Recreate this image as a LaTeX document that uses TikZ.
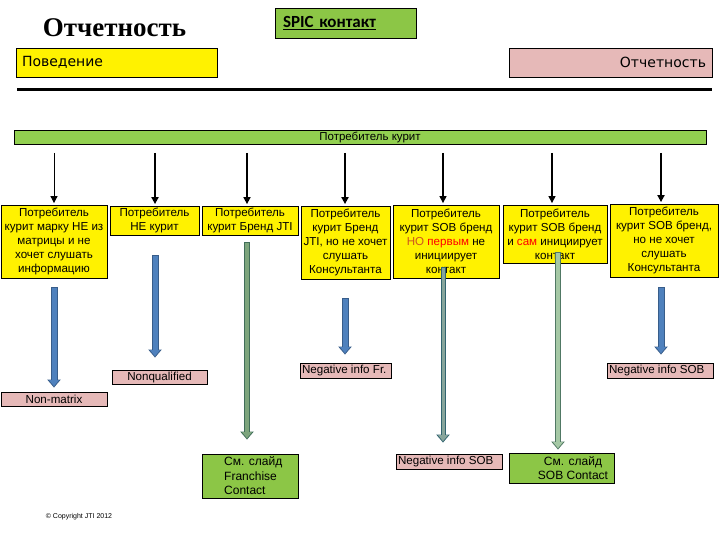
\documentclass[tikz,border=0pt]{standalone}
\usepackage{fontspec}
\setmainfont{Liberation Sans}
\newfontfamily\titlefont{Liberation Serif}
\newfontfamily\calfont{Carlito}
\newfontfamily\dvfont{DejaVu Sans}
\usetikzlibrary{arrows.meta}
\definecolor{bargreen}{RGB}{146,208,80}
\definecolor{boxgreen}{RGB}{140,198,70}
\definecolor{pinkbox}{RGB}{230,185,184}
\definecolor{blueF}{RGB}{79,129,189}
\definecolor{blueD}{RGB}{56,93,138}
\definecolor{grnD}{RGB}{64,110,90}
\definecolor{grnF}{RGB}{125,165,125}
\definecolor{tealD}{RGB}{50,100,112}
\definecolor{tealF}{RGB}{135,165,155}
\definecolor{lgrnD}{RGB}{80,120,100}
\definecolor{lgrnF}{RGB}{165,200,165}
\definecolor{orangeNO}{RGB}{205,85,30}
\newcommand\blkarrow[6]{%
  \draw[draw=#3, line width=#5pt, shorten >=#6pt, -{Triangle[width=13pt,length=8pt]}] (#1) -- (#2);
  \draw[draw=#4, line width=#5pt-2pt, shorten <=1pt, shorten >=#6pt+1.4pt, -{Triangle[width=9.5pt,length=6pt]}] (#1) -- (#2);}
\begin{document}
\begin{tikzpicture}[x=1pt,y=-1pt,
  box/.style={draw=black, line width=0.8pt, inner sep=0pt, align=center, font=\fontsize{11.6}{14}\selectfont},
  ybox/.style={box, fill=yellow},
  pbox/.style={box, fill=pinkbox},
  gbox/.style={box, fill=boxgreen},
  karrow/.style={draw=black, -{Triangle[width=7pt,length=7pt]}, shorten >=1.5pt}]
\path[use as bounding box] (0,0) rectangle (720,540);

% header
\node[anchor=base, font=\titlefont\bfseries\fontsize{27}{30}\selectfont] (title) at (114.5,37) {Отчетность};
\node[box, fill=boxgreen, minimum height=30pt, text width=125pt, inner xsep=8pt, align=left,
      font=\calfont\bfseries\fontsize{17}{20}\selectfont] (spic) at (345.5,23) {\underline{SPIC контакт}};
\node[box, fill=yellow, minimum height=29pt, text width=189pt, inner xsep=6pt, align=left,
      font=\dvfont\fontsize{14}{16}\selectfont] (beh) at (116.5,62.5) {Поведение};
\node[box, fill=pinkbox, minimum height=29pt, text width=191pt, inner xsep=6pt, align=right,
      font=\dvfont\fontsize{14}{16}\selectfont] (rep) at (610.5,62.5) {Отчетность};
\coordinate (l1) at (17,90);
\coordinate (l2) at (712,90);
\draw[line width=3pt] (l1) -- (l2);

% green bar
\node[draw=black, line width=0.8pt, fill=bargreen, minimum width=692pt, minimum height=14pt, inner sep=0pt] (bar) at (360,137) {};
\node[font=\fontsize{11.5}{13}\selectfont, inner sep=0pt] (bartxt) at (370,137) {Потребитель курит};

% yellow boxes
\node[ybox, minimum width=106pt, minimum height=73pt] (y1) at (54,241.5)
  {Потребитель\\курит марку НЕ из\\матрицы и не\\хочет слушать\\информацию};
\node[ybox, minimum width=89pt, minimum height=29pt] (y2) at (154.5,220.5)
  {Потребитель\\НЕ курит};
\node[ybox, minimum width=96pt, minimum height=29pt] (y3) at (250,220.5)
  {Потребитель\\курит Бренд JTI};
\node[ybox, minimum width=89pt, minimum height=73pt] (y4) at (345.5,242.5)
  {Потребитель\\курит Бренд\\JTI, но не хочет\\слушать\\Консультанта};
\node[ybox, minimum width=106pt, minimum height=73pt] (y5) at (446,241.5)
  {Потребитель\\курит SOB бренд\\\textcolor{orangeNO}{НО} \textcolor{red}{первым} не\\инициирует\\контакт};
\node[ybox, minimum width=104pt, minimum height=58pt] (y6) at (555,234)
  {Потребитель\\курит SOB бренд\\и \textcolor{red}{сам} инициирует\\контакт};
\node[ybox, minimum width=108pt, minimum height=73pt] (y7) at (664,240.5)
  {Потребитель\\курит SOB бренд,\\но не хочет\\слушать\\Консультанта};

% black arrows from the bar
\coordinate (a1) at (54,153);
\coordinate (a2) at (155,153);
\coordinate (a3) at (247,153);
\coordinate (a4) at (345,153);
\coordinate (a5) at (443,153);
\coordinate (a6) at (552,153);
\coordinate (a7) at (661,153);
\draw[karrow, line width=0.8pt] (a1) -- (a1 |- y1.north);
\draw[karrow, line width=1.8pt] (a2) -- (a2 |- y2.north);
\draw[karrow, line width=1.6pt] (a3) -- (a3 |- y3.north);
\draw[karrow, line width=2.2pt] (a4) -- (a4 |- y4.north);
\draw[karrow, line width=1.2pt] (a5) -- (a5 |- y5.north);
\draw[karrow, line width=1.2pt] (a6) -- (a6 |- y6.north);
\draw[karrow, line width=1.8pt] (a7) -- (a7 |- y7.north);

% result boxes
\node[pbox, minimum width=106pt, minimum height=14pt] (nm) at (54,399) {Non-matrix};
\node[pbox, minimum width=95pt, minimum height=14pt] (nq) at (159.5,377) {Nonqualified};
\node[pbox, minimum width=91pt, minimum height=15pt] (nfr) at (345.5,370.5) {\makebox[87pt][l]{Negative info Fr.}};
\node[pbox, minimum width=106pt, minimum height=15pt] (ns1) at (449,461.5) {\makebox[102pt][l]{Negative info SOB}};
\node[pbox, minimum width=106pt, minimum height=15pt] (ns2) at (660,370.5) {\makebox[102pt][l]{Negative info SOB}};
\node[gbox, minimum width=96pt, minimum height=44pt] (fr) at (250,476) {};
\node[font=\fontsize{12}{14.5}\selectfont, align=left, inner sep=0pt, anchor=west] (frtxt) at (224,476) {См. слайд\\Franchise\\Contact};
\node[gbox, minimum width=105pt, minimum height=30pt] (sc) at (561.5,468) {};
\node[font=\fontsize{12}{14.5}\selectfont, align=center, inner sep=0pt] (sctxt) at (573,468) {См. слайд\\SOB Contact};

% block arrows
\coordinate (b1) at (54,287);
\coordinate (b2) at (155,255);
\coordinate (b3) at (247,242);
\coordinate (b4) at (345,298);
\coordinate (b5) at (443,267);
\coordinate (b6) at (558,252);
\coordinate (b7) at (661,287);
\blkarrow{b1}{b1 |- nm.north}{blueD}{blueF}{7}{4}
\blkarrow{b2}{b2 |- nq.north}{blueD}{blueF}{7}{12}
\blkarrow{b3}{b3 |- fr.north}{grnD}{grnF}{6}{14}
\blkarrow{b4}{b4 |- nfr.north}{blueD}{blueF}{7}{8}
\blkarrow{b5}{b5 |- ns1.north}{tealD}{tealF}{5}{11}
\blkarrow{b6}{b6 |- sc.north}{lgrnD}{lgrnF}{6}{3}
\blkarrow{b7}{b7 |- ns2.north}{blueD}{blueF}{7}{8}

\node[font=\fontsize{7}{8}\selectfont, inner sep=0pt] (copy) at (79,517) {© Copyright JTI 2012};
\end{tikzpicture}
\end{document}
